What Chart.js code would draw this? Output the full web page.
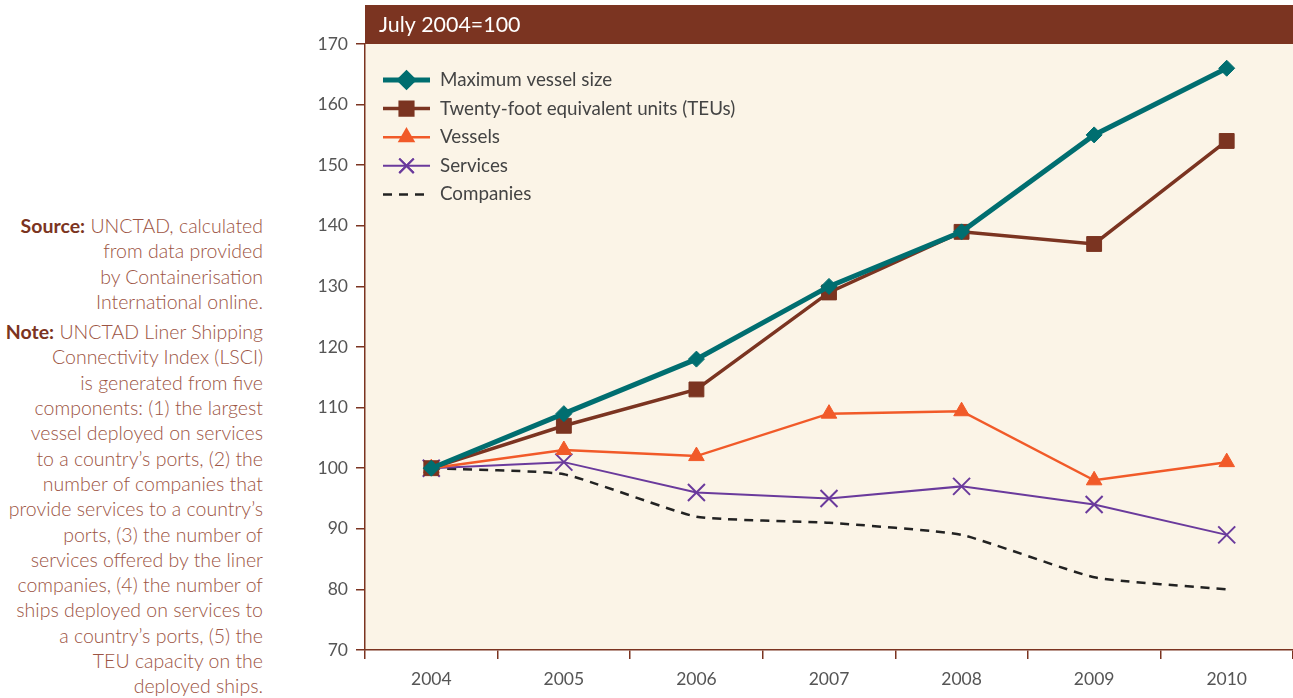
<!DOCTYPE html>
<html lang="en">
<head>
    <meta charset="UTF-8">
    <title>LSCI components, July 2004=100</title>
    <script src="https://cdn.jsdelivr.net/npm/chart.js"></script>
    <style>
        html, body {
            margin: 0;
            overflow: hidden;
        }
        body {
            background: #ffffff;
            font-family: 'Lato', sans-serif;
        }
        .page {
            position: relative;
            width: 1293px;
            height: 698px;
            overflow: hidden;
        }
        .notes {
            position: absolute;
            left: 0;
            top: 213px;
            width: 263px;
            text-align: right;
            color: #9c5443;
            font-size: 19.5px;
            font-weight: 300;
            line-height: 25.3px;
            white-space: nowrap;
        }
        .notes p { margin: 0 0 5px 0; }
        .notes b { color: #7b3421; font-weight: 700; }
        #lsciChart {
            position: absolute;
            left: 300px;
            top: 0;
        }
    </style>
</head>
<body>
<div class="page">
    <div class="notes">
        <p><b>Source:</b> UNCTAD, calculated<br>from data provided<br>by Containerisation<br>International online.</p>
        <p><b>Note:</b> UNCTAD Liner Shipping<br>Connectivity Index (LSCI)<br>is generated from five<br>components: (1) the largest<br>vessel deployed on services<br>to a country’s ports, (2) the<br>number of companies that<br>provide services to a country’s<br>ports, (3) the number of<br>services offered by the liner<br>companies, (4) the number of<br>ships deployed on services to<br>a country’s ports, (5) the<br>TEU capacity on the<br>deployed ships.</p>
    </div>
    <canvas id="lsciChart" width="993" height="698"></canvas>
</div>
<script>
// years and index values (July 2004 = 100)
const years = ['2004', '2005', '2006', '2007', '2008', '2009', '2010'];
const maxVesselSize = [100, 109, 118, 130, 139, 155, 166];
const teus = [100, 107, 113, 129, 139, 137, 154];
const vessels = [100, 103, 102, 109, 109.4, 98, 101];
const services = [100, 101, 96, 95, 97, 94, 89];
const companies = [100, 99, 92, 91, 89, 82, 80];

const headerText = 'July 2004=100';
const brown = '#7b3421';

// cream plot area + brown header band
const backdrop = {
    id: 'backdrop',
    beforeDraw(chart) {
        const { ctx, chartArea: a } = chart;
        ctx.save();
        ctx.fillStyle = '#fbf4e7';
        ctx.fillRect(a.left, a.top, a.right - a.left, a.bottom - a.top);
        ctx.fillStyle = brown;
        ctx.fillRect(a.left, 5, a.right - a.left, a.top - 5);
        ctx.fillStyle = '#ffffff';
        ctx.font = '21.4px Lato';
        ctx.textBaseline = 'middle';
        ctx.fillText(headerText, a.left + 14, (a.top + 5) / 2 + 1);
        ctx.restore();
    }
};

// legend drawn inside plot area, line sample with marker
const insideLegend = {
    id: 'insideLegend',
    afterDraw(chart) {
        const { ctx, chartArea: a } = chart;
        ctx.save();
        chart.data.datasets.forEach((ds, i) => {
            const y = 80 + i * 28.6;
            const x0 = a.left + 18, x1 = a.left + 65;
            ctx.strokeStyle = ds.borderColor;
            ctx.lineWidth = ds.borderWidth;
            ctx.setLineDash(ds.borderDash || []);
            ctx.beginPath();
            ctx.moveTo(x0, y);
            ctx.lineTo(x1, y);
            ctx.stroke();
            ctx.setLineDash([]);
            if (ds.pointStyle) {
                Chart.helpers.drawPoint(ctx, {
                    pointStyle: ds.pointStyle,
                    radius: ds.pointRadius * 0.85,
                    borderWidth: ds.pointBorderWidth || 1
                }, (x0 + x1) / 2, y);
                if (ds.pointStyle === 'crossRot') {
                    ctx.strokeStyle = ds.borderColor;
                    ctx.lineWidth = 2;
                    ctx.stroke();
                } else {
                    ctx.fillStyle = ds.borderColor;
                    ctx.fill();
                }
            }
            ctx.fillStyle = '#444';
            ctx.font = '18.8px Lato';
            ctx.textBaseline = 'middle';
            ctx.fillText(ds.label, a.left + 75, y);
        });
        ctx.restore();
    }
};

new Chart(document.getElementById('lsciChart'), {
    type: 'line',
    data: {
        labels: years,
        datasets: [
            {
                label: 'Maximum vessel size',
                data: maxVesselSize,
                borderColor: '#006e70',
                backgroundColor: '#006e70',
                borderWidth: 5,
                pointStyle: 'rectRot',
                pointRadius: 8,
                pointBorderWidth: 1
            },
            {
                label: 'Twenty-foot equivalent units (TEUs)',
                data: teus,
                borderColor: brown,
                backgroundColor: brown,
                borderWidth: 3.5,
                pointStyle: 'rect',
                pointRadius: 10.5,
                pointBorderWidth: 1
            },
            {
                label: 'Vessels',
                data: vessels,
                borderColor: '#f15a29',
                backgroundColor: '#f15a29',
                borderWidth: 2.5,
                pointStyle: 'triangle',
                pointRadius: 9,
                pointBorderWidth: 1
            },
            {
                label: 'Services',
                data: services,
                borderColor: '#6a3a9c',
                backgroundColor: '#6a3a9c',
                borderWidth: 2,
                pointStyle: 'crossRot',
                pointRadius: 12,
                pointBorderWidth: 2
            },
            {
                label: 'Companies',
                data: companies,
                borderColor: '#222222',
                borderWidth: 2.5,
                borderDash: [9, 7],
                pointStyle: false,
                pointRadius: 0,
                tension: 0.15
            }
        ]
    },
    options: {
        responsive: false,
        animation: false,
        layout: {
            autoPadding: false,
            padding: { top: 44, right: 0, bottom: 0, left: 0 }
        },
        plugins: {
            legend: { display: false },
            tooltip: { enabled: false }
        },
        scales: {
            x: {
                offset: true,
                grid: {
                    offset: true,
                    drawOnChartArea: false,
                    color: brown,
                    tickLength: 9,
                    lineWidth: 1.5
                },
                border: { color: brown, width: 1.5 },
                ticks: {
                    color: '#555',
                    font: { family: 'Lato', size: 17.5 },
                    padding: 10
                },
                afterFit(scale) {
                    scale.height = 48;
                    scale.paddingLeft = 0;
                    scale.paddingRight = 0;
                }
            },
            y: {
                min: 70,
                max: 170,
                grid: {
                    drawOnChartArea: false,
                    color: brown,
                    tickLength: 9,
                    lineWidth: 1.5
                },
                border: { color: brown, width: 1.5 },
                ticks: {
                    stepSize: 10,
                    color: '#555',
                    font: { family: 'Lato', size: 17.5 },
                    padding: 8
                },
                afterFit(scale) {
                    scale.width = 65;
                    scale.paddingTop = 0;
                    scale.paddingBottom = 0;
                }
            }
        }
    },
    plugins: [backdrop, insideLegend]
});
</script>
</body>
</html>
